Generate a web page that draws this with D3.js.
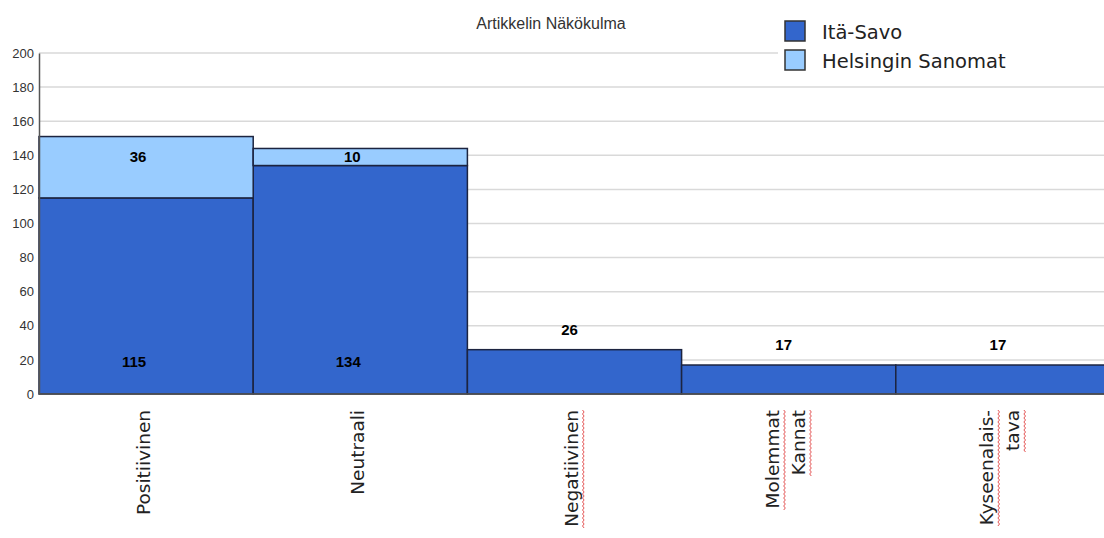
<!DOCTYPE html>
<html>
<head>
<meta charset="utf-8">
<script src="https://cdn.jsdelivr.net/npm/d3@7"></script>
<style>
  html, body { margin: 0; padding: 0; background: #fff; }
  svg { display: block; }
</style>
</head>
<body>
<svg id="chart" width="1104" height="538"></svg>
<script>
const categories = ["Positiivinen", "Neutraali", "Negatiivinen", "Molemmat Kannat", "Kyseenalaistava"];
const categoryLines = [["Positiivinen"], ["Neutraali"], ["Negatiivinen"], ["Molemmat", "Kannat"], ["Kyseenalais-", "tava"]];
const spellMarked = [[false], [false], [true], [true, true], [true, true]];
const seriesNames = ["Itä-Savo", "Helsingin Sanomat"];
const itaSavo = [115, 134, 26, 17, 17];
const helsinginSanomat = [36, 10, 0, 0, 0];
const yTicks = [0, 20, 40, 60, 80, 100, 120, 140, 160, 180, 200];
const title = "Artikkelin Näkökulma";

(function () {
const colors = ["#3366cc", "#99ccff"];
const svg = d3.select("#chart");
const W = 1104;
const mLeft = 39, mRight = 1110, mTop = 53, mBottom = 394;

const x = d3.scaleBand().domain(categories).range([mLeft, mRight]).paddingInner(0).paddingOuter(0);
const y = d3.scaleLinear().domain([0, 200]).range([mBottom, mTop]);

// gridlines
svg.append("g").selectAll("line").data(yTicks.filter(d => d > 0)).join("line")
  .attr("x1", mLeft).attr("x2", W).attr("y1", d => y(d)).attr("y2", d => y(d))
  .attr("stroke", "#d9d9d9").attr("stroke-width", 1.5);

// stacked data
const table = categories.map((c, i) => ({ cat: c, "Itä-Savo": itaSavo[i], "Helsingin Sanomat": helsinginSanomat[i] }));
const stack = d3.stack().keys(seriesNames)(table);

svg.append("g").selectAll("g").data(stack).join("g")
  .attr("fill", (d, i) => colors[i])
  .selectAll("rect").data(d => d.filter(p => p[1] - p[0] > 0)).join("rect")
  .attr("x", d => x(d.data.cat))
  .attr("width", x.bandwidth())
  .attr("y", d => y(d[1]))
  .attr("height", d => y(d[0]) - y(d[1]))
  .attr("stroke", "#1c2440").attr("stroke-width", 1.5);

// axes
const yAxis = d3.axisLeft(y).tickValues(yTicks).tickSize(0).tickPadding(5);
const gy = svg.append("g").attr("transform", `translate(${mLeft},0)`).call(yAxis);
gy.select(".domain").attr("stroke", "#555").attr("stroke-width", 1.5);
gy.selectAll("text").attr("font-family", "Liberation Sans, Arial, sans-serif").attr("font-size", 13).attr("fill", "#333");

svg.append("line").attr("x1", mLeft).attr("x2", W).attr("y1", mBottom).attr("y2", mBottom)
  .attr("stroke", "#555").attr("stroke-width", 1.5);

// value labels
const lab = svg.append("g").attr("font-family", "Liberation Sans, Arial, sans-serif")
  .attr("font-size", 15).attr("font-weight", "bold").attr("fill", "#000").attr("text-anchor", "middle");
categories.forEach((c, i) => {
  const cx = x(c) + x.bandwidth() / 2;
  if (helsinginSanomat[i] > 0) {
    lab.append("text").attr("x", cx - 12).attr("y", y(19)).attr("dy", "0.35em").text(itaSavo[i]);
    lab.append("text").attr("x", cx - 8).attr("y", y(139)).attr("dy", "0.35em").text(helsinginSanomat[i]);
  } else {
    lab.append("text").attr("x", cx - 5).attr("y", y(itaSavo[i]) - 20).attr("dy", "0.35em").text(itaSavo[i]);
  }
});

// x category labels (rotated)
const xl = svg.append("g");
categories.forEach((c, i) => {
  const cx = x(c) + x.bandwidth() / 2;
  const lines = categoryLines[i];
  const lh = 26;
  lines.forEach((ln, j) => {
    const lx = cx - 3 + (j - (lines.length - 1) / 2) * lh;
    const t = xl.append("text")
      .attr("transform", `translate(${lx},410) rotate(-90)`)
      .attr("text-anchor", "end").attr("dy", "0.35em")
      .attr("font-family", "DejaVu Sans, sans-serif").attr("font-size", 18.5).attr("fill", "#222")
      .text(ln);
    if (spellMarked[i][j]) {
      const len = t.node().getComputedTextLength();
      const sx = lx + 11;
      let d = `M${sx},410`;
      for (let k = 0, yy = 410; yy < 410 + len; k++) {
        yy += 2;
        d += ` L${sx + (k % 2 ? 0 : 1.6)},${yy}`;
      }
      xl.append("path").attr("d", d).attr("fill", "none").attr("stroke", "#e04040").attr("stroke-width", 0.9);
    }
  });
});

// title
svg.append("text").attr("x", 551).attr("y", 29).attr("text-anchor", "middle")
  .attr("font-family", "Liberation Sans, Arial, sans-serif").attr("font-size", 16).attr("fill", "#333")
  .text(title);

// legend
const lg = svg.append("g");
lg.append("rect").attr("x", 778).attr("y", 8).attr("width", 330).attr("height", 72).attr("fill", "#fff");
seriesNames.forEach((s, i) => {
  const yy = 21 + i * 29;
  lg.append("rect").attr("x", 785).attr("y", yy).attr("width", 20).attr("height", 20)
    .attr("fill", colors[i]).attr("stroke", "#333").attr("stroke-width", 1.5);
  lg.append("text").attr("x", 822).attr("y", yy + 11).attr("dy", "0.35em")
    .attr("font-family", "DejaVu Sans, sans-serif").attr("font-size", 19.5).attr("fill", "#222").text(s);
});
})();
</script>
</body>
</html>
